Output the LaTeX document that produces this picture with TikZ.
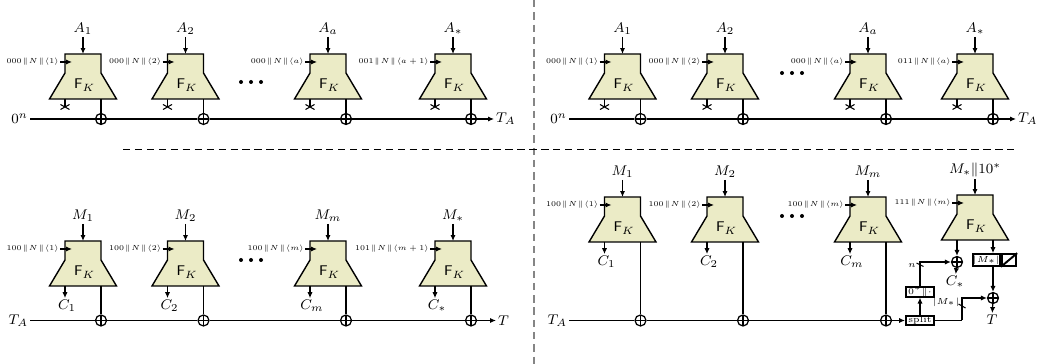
\documentclass[tikz,border=0pt]{standalone}
\usepackage{amsmath}
\usepackage{graphicx}
\usetikzlibrary{arrows.meta}
\definecolor{blkfill}{HTML}{EBEBC6}
\definecolor{divgray}{HTML}{858585}
\newcommand\catsym{\mskip1.5mu\|\mskip1.5mu}
\tikzset{
  ln/.style={line width=0.7pt},
  arr/.style={line width=0.7pt,-{Latex[length=3.4pt,width=3pt]}},
  lab/.style={font=\fontsize{8}{9}\selectfont, inner sep=1pt},
  tlab/.style={font=\fontsize{5}{6}\selectfont, inner sep=0.5pt},
  fklab/.style={font=\fontsize{8.5}{10}\selectfont, inner sep=0pt},
  xorn/.style={circle, draw, line width=0.7pt, minimum size=0.22cm, inner sep=0pt,
    path picture={\draw[line width=0.7pt] (path picture bounding box.north) -- (path picture bounding box.south)
       (path picture bounding box.west) -- (path picture bounding box.east);}},
  sbox/.style={draw, line width=1.1pt, font=\fontsize{5}{6}\selectfont, inner sep=0pt,
    minimum width=0.56cm, minimum height=0.19cm},
  fblock/.pic={
    \path[draw, line width=0.8pt, fill=blkfill, line join=miter]
      (-18,0) -- (18,0) -- (18,19) -- (33.5,45) -- (-33.5,45) -- (-18,19) -- cycle;
    \node[fklab] (-fk) at (1.5,31) {$\mathsf{F}_K$};
    \coordinate (-top) at (0,0);
    \coordinate (-in) at (-11,8);
    \coordinate (-bl) at (-18,45);
    \coordinate (-br) at (18,45);
  },
}
\newcommand\mkblk[5]{%
  \pic (#1) at (#2,#3) {fblock};
  \node[lab] (#1-tl) at (#2,#3-25) {$#4$};
  \draw[arr] (#1-tl) -- (#1-top);
  \node[tlab, anchor=east] (#1-il) at (#2-23,#3+8) {\scalebox{0.84}{$#5$}};
  \draw[arr] (#1-il) -- (#1-in);
}
\newcommand\mkcut[1]{%
  \draw[ln] (#1-bl) -- ++(0,8);
  \draw[line width=0.6pt] ([shift={(-4.5,5.5)}]#1-bl) -- ++(9,5)
                          ([shift={(-4.5,10.5)}]#1-bl) -- ++(9,-5);
}
\newcommand\mkout[2]{%
  \node[lab] (#1-c) at ([shift={(2,20)}]#1-bl) {$#2$};
  \draw[arr] (#1-bl) -- (#1-bl |- #1-c.north);
}
\newcommand\mkxor[3]{%
  \node[xorn] (#1-x) at (#2+18,#3) {};
  \draw[ln] (#1-br) -- (#1-x);
}
\newcommand\mkdots[2]{%
  \fill (#1,#2) circle (2) (#1+10,#2) circle (2) (#1+20,#2) circle (2);
}
\begin{document}
\begin{tikzpicture}[x=0.02cm,y=-0.02cm]
\useasboundingbox (0,0) rectangle (1042,364);
% dividers
\draw[divgray, line width=1pt, dash pattern=on 4.2pt off 2.8pt] (534,0) -- (534,364);
\draw[line width=0.7pt, dash pattern=on 4.2pt off 2.6pt] (123,149.3) -- (1017,149.3);

% ===== top-left =====
\mkblk{tla}{83}{54}{A_1}{000\catsym N\catsym\langle 1\rangle}
\mkblk{tlb}{185.5}{54}{A_2}{000\catsym N\catsym\langle 2\rangle}
\mkblk{tlc}{328}{54}{A_a}{000\catsym N\catsym\langle a\rangle}
\mkblk{tld}{453}{54}{A_*}{001\catsym N\catsym\langle a+1\rangle}
\mkcut{tla}\mkcut{tlb}\mkcut{tlc}\mkcut{tld}
\mkxor{tla}{83}{119}\mkxor{tlb}{185.5}{119}\mkxor{tlc}{328}{119}\mkxor{tld}{453}{119}
\mkdots{241}{82}
\node[lab, anchor=east] (tlz) at (30,119) {$0^n$};
\node[lab, anchor=west] (tlt) at (494,119) {$T_A$};
\draw[ln] (tlz) -- (tla-x) -- (tlb-x) -- (tlc-x) -- (tld-x);
\draw[arr] (tld-x) -- (tlt);

% ===== top-right =====
\mkblk{tra}{622.5}{54}{A_1}{000\catsym N\catsym\langle 1\rangle}
\mkblk{trb}{725}{54}{A_2}{000\catsym N\catsym\langle 2\rangle}
\mkblk{trc}{868}{54}{A_a}{000\catsym N\catsym\langle a\rangle}
\mkblk{trd}{975}{54}{A_*}{011\catsym N\catsym\langle a\rangle}
\mkcut{tra}\mkcut{trb}\mkcut{trc}\mkcut{trd}
\mkxor{tra}{622.5}{119}\mkxor{trb}{725}{119}\mkxor{trc}{868}{119}\mkxor{trd}{975}{119}
\mkdots{782}{73}
\node[lab, anchor=east] (trz) at (569,119) {$0^n$};
\node[lab, anchor=west] (trt) at (1016,119) {$T_A$};
\draw[ln] (trz) -- (tra-x) -- (trb-x) -- (trc-x) -- (trd-x);
\draw[arr] (trd-x) -- (trt);

% ===== bottom-left =====
\mkblk{bla}{83}{241}{M_1}{100\catsym N\catsym\langle 1\rangle}
\mkblk{blb}{185.5}{241}{M_2}{100\catsym N\catsym\langle 2\rangle}
\mkblk{blc}{328}{241}{M_m}{100\catsym N\catsym\langle m\rangle}
\mkblk{bld}{453}{241}{M_*}{101\catsym N\catsym\langle m+1\rangle}
\mkout{bla}{C_1}\mkout{blb}{C_2}\mkout{blc}{C_m}\mkout{bld}{C_*}
\mkxor{bla}{83}{320.5}\mkxor{blb}{185.5}{320.5}\mkxor{blc}{328}{320.5}\mkxor{bld}{453}{320.5}
\mkdots{241}{260}
\node[lab, anchor=east] (blz) at (30,320.5) {$T_A$};
\node[lab, anchor=west] (blt) at (496,320.5) {$T$};
\draw[ln] (blz) -- (bla-x) -- (blb-x) -- (blc-x) -- (bld-x);
\draw[arr] (bld-x) -- (blt);

% ===== bottom-right =====
\mkblk{bra}{622.5}{197}{M_1}{100\catsym N\catsym\langle 1\rangle}
\mkblk{brb}{725}{197}{M_2}{100\catsym N\catsym\langle 2\rangle}
\mkblk{brc}{868}{197}{M_m}{100\catsym N\catsym\langle m\rangle}
\mkblk{brd}{975}{195}{M_*\|10^*}{111\catsym N\catsym\langle m\rangle}
\mkout{bra}{C_1}\mkout{brb}{C_2}\mkout{brc}{C_m}
\mkxor{bra}{622.5}{320.5}\mkxor{brb}{725}{320.5}\mkxor{brc}{868}{320.5}
\mkdots{782}{216}
\node[lab, anchor=east] (brz) at (569,320.5) {$T_A$};
\node[sbox] (split) at (920,320.5) {split};
\node[sbox] (zpad) at (920,291.7) {$0^*\|\cdot$};
\node[xorn] (xs1) at (957,262) {};
\node[lab] (cst) at (955,282) {$C_*$};
\node[sbox, minimum width=0.546cm, minimum height=0.234cm] (mbx) at (986.3,260) {$|M_*|$};
\node[sbox, minimum width=0.286cm, minimum height=0.234cm, anchor=west] (hbx) at (mbx.east) {};
\draw[line width=1.1pt] (hbx.south west) -- (hbx.north east);
\node[xorn] (xs2) at (993,298) {};
\node[lab] (tfin) at (992,320) {$T$};
\coordinate (bend) at (962,320.5);

\draw[ln] (brz) -- (bra-x) -- (brb-x) -- (brc-x);
\draw[arr] (brc-x) -- (split);
\draw[arr] (split) -- (zpad);
\draw[arr] (zpad.north) |- (xs1.west);
\draw[arr] (brd-bl) -- (xs1);
\draw[arr] (xs1) -- (cst);
\draw[arr] (brd-br) -- (brd-br |- mbx.north);
\draw[arr] (brd-br |- mbx.south) -- (xs2);
\draw[ln] (split.east) -- (bend);
\draw[arr] (bend) |- (xs2.west);
\draw[arr] (xs2) -- (tfin);
% tick marks
\draw[line width=0.6pt] (916.5,263) -- (923.5,266.5);
\node[tlab] (nlab) at (912,266) {$n$};
\draw[line width=0.6pt] (958.5,304) -- (965.5,308);
\node[tlab] (mlab) at (946,302) {$|M_*|$};
\end{tikzpicture}
\end{document}
